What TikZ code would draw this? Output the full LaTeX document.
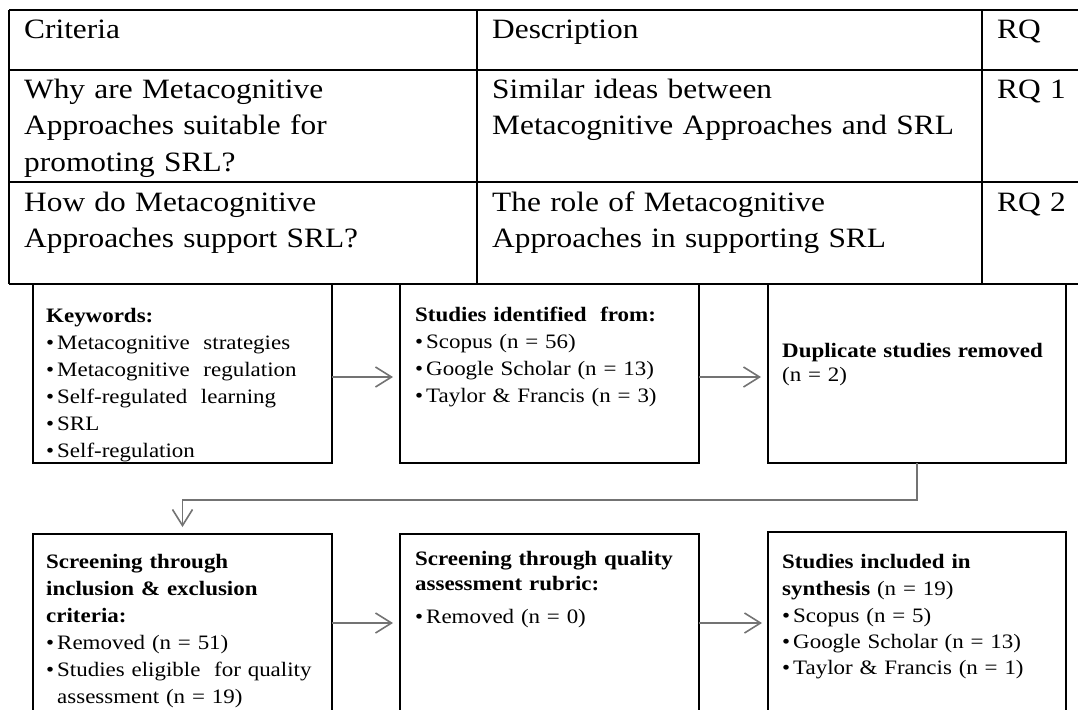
\documentclass[tikz,border=0pt]{standalone}
\usepackage{fontspec}
\setmainfont{Liberation Serif}[FakeStretch=1.12]
\usetikzlibrary{arrows.meta}
\newcommand{\bul}{\makebox[11pt][l]{\textbullet}}
\begin{document}
\begin{tikzpicture}[x=1pt,y=-1pt,
  tline/.style={line width=2.4pt},
  tcell/.style={anchor=base west, inner sep=0pt, text width=480pt, align=left, font=\fontsize{28}{36.7}\selectfont},
  fbox/.style={draw, line width=2.4pt, anchor=north west, outer sep=0pt, inner sep=0pt, minimum width=299pt},
  ftext/.style={anchor=base west, inner sep=0pt, text width=300pt, align=left, font=\fontsize{20.5}{27}\selectfont},
  arr/.style={draw=black!55, line width=1.6pt, -{Straight Barb[length=16pt,width=20pt,line width=1.6pt]}},
  ]
\useasboundingbox (0,0) rectangle (1078,709);
\clip (0,0) rectangle (1078,709);
% ---------------- table ----------------
\draw[tline] (9,10) -- (1080,10);
\draw[tline] (9,70) -- (1080,70);
\draw[tline] (9,182) -- (1080,182);
\draw[tline] (9,284) -- (1080,284);
\draw[tline] (9,10) -- (9,284);
\draw[tline] (477,10) -- (477,284);
\draw[tline] (982,10) -- (982,284);
\node[tcell] (h1) at (24,39) {Criteria};
\node[tcell] (h2) at (492,39) {Description};
\node[tcell, text width=90pt] (h3) at (997,39) {RQ};
\node[tcell] (c21) at (24,98) {Why are Metacognitive\\Approaches suitable for\\promoting SRL?};
\node[tcell] (c22) at (492,98) {Similar ideas between\\Metacognitive Approaches and SRL};
\node[tcell, text width=90pt] (c23) at (997,98) {RQ 1};
\node[tcell] (c31) at (24,211) {How do Metacognitive\\Approaches support SRL?};
\node[tcell] (c32) at (492,211) {The role of Metacognitive\\Approaches in supporting SRL};
\node[tcell, text width=90pt] (c33) at (997,211) {RQ 2};
% ---------------- flowchart ----------------
\node[fbox, minimum height=179pt] (b1) at (33,284) {};
\node[fbox, minimum height=179pt] (b2) at (400,284) {};
\node[fbox, minimum height=179pt, minimum width=298pt] (b3) at (768,284) {};
\node[fbox, minimum height=200pt] (b4) at (33,534) {};
\node[fbox, minimum height=200pt] (b5) at (400,534) {};
\node[fbox, minimum height=200pt, minimum width=298pt] (b6) at (768,532) {};

\node[ftext] (t1) at (46,322) {\textbf{Keywords:}\\
\bul Metacognitive\ \ strategies\\
\bul Metacognitive\ \ regulation\\
\bul Self-regulated\ \ learning\\
\bul SRL\\
\bul Self-regulation};
\node[ftext] (t2) at (415,321) {\textbf{Studies identified\ \ from:}\\
\bul Scopus (n = 56)\\
\bul Google Scholar (n = 13)\\
\bul Taylor \& Francis (n = 3)};
\node[ftext] (t3) at (782,357) {\textbf{Duplicate studies removed}\\[-3pt]
(n = 2)};
\node[ftext] (t4) at (46,568) {\textbf{Screening through}\\
\textbf{inclusion \& exclusion}\\
\textbf{criteria:}\\
\bul Removed (n = 51)\\
\bul Studies eligible\ \ for quality\\
\hspace*{11pt}assessment (n = 19)};
\node[ftext] (t5) at (415,565) {\textbf{Screening through quality}\\[-2pt]
\textbf{assessment rubric:}\\[6pt]
\bul Removed (n = 0)};
\node[ftext] (t6) at (782,568) {\textbf{Studies included in}\\
\textbf{synthesis} (n = 19)\\
\bul Scopus (n = 5)\\[-1pt]
\bul Google Scholar (n = 13)\\[-1pt]
\bul Taylor \& Francis (n = 1)};

\coordinate (r12) at (0,377);
\coordinate (r45) at (0,623);
\draw[arr] (b1.east |- r12) -- ([xshift=-7pt]b2.west |- r12);
\draw[arr] (b2.east |- r12) -- ([xshift=-7pt]b3.west |- r12);
\draw[arr] (b3.south) -- ++(0,37) -| ([yshift=7pt]b4.north);
\draw[arr] (b4.east |- r45) -- ([xshift=-7pt]b5.west |- r45);
\draw[arr] (b5.east |- r45) -- ([xshift=-6pt]b6.west |- r45);
\end{tikzpicture}
\end{document}
